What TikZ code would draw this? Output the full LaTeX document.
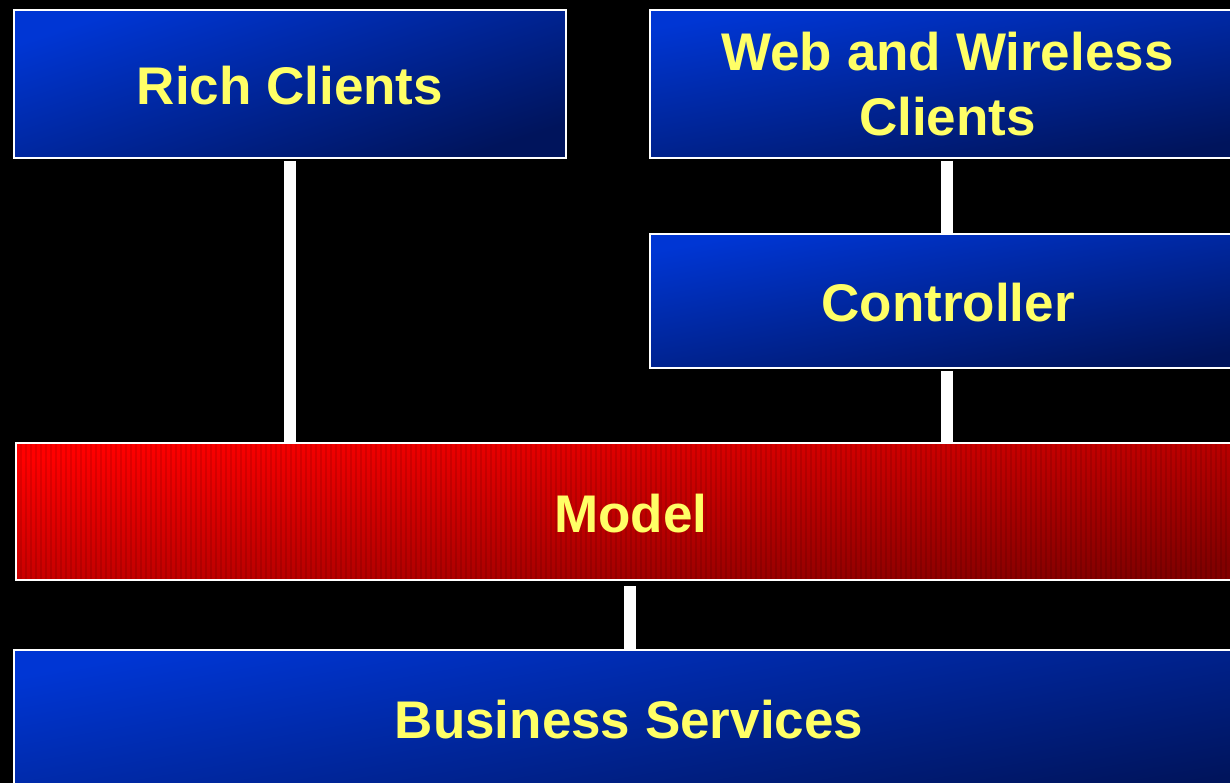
\documentclass[tikz,border=0pt]{standalone}
\usepackage{fontspec}
\setmainfont{Liberation Sans}
\definecolor{blueA}{RGB}{0,54,212}
\definecolor{blueB}{RGB}{0,20,92}
\definecolor{redA}{RGB}{255,0,0}
\definecolor{redB}{RGB}{130,0,0}
\definecolor{txt}{RGB}{255,255,102}
\tikzset{
  frame/.style={rectangle, draw=white, line width=1.6pt, inner sep=0pt, outer sep=0pt},
  box/.style={frame, top color=blueA, bottom color=blueB, shading angle=18},
  widebox/.style={frame, top color=blueA, bottom color=blueB, shading angle=10},
  redbox/.style={frame, top color=redA, bottom color=redB, shading angle=8,
    path picture={
      \foreach \i in {0,5,...,1240}
        \draw[black, opacity=0.10, line width=1.5pt]
          ([xshift=\i pt]path picture bounding box.north west) --
          ([xshift=\i pt]path picture bounding box.south west);
    }},
  lbl/.style={text=txt, font=\bfseries\fontsize{53}{65}\selectfont, inner sep=0pt, align=center},
  conn/.style={draw=white, line width=12pt, line cap=butt}
}
\begin{document}
\begin{tikzpicture}[x=1pt, y=-1pt]
\useasboundingbox (0,0) rectangle (1230,783);
\fill[black] (0,0) rectangle (1230,783);
\clip (0,0) rectangle (1230,783);
% boxes
\node[box, minimum width=552pt, minimum height=148pt] (rich) at (290,84) {};
\node[widebox, minimum width=594pt, minimum height=148pt] (web) at (947,84) {};
\node[widebox, minimum width=594pt, minimum height=134pt] (ctrl) at (947,301) {};
\node[redbox, minimum width=1228pt, minimum height=137pt] (model) at (630,511.5) {};
\node[widebox, minimum width=1230pt, minimum height=150pt] (bs) at (629,725) {};
% labels
\node[lbl, anchor=base] (richtxt) at (290,105) {Rich Clients};
\node[lbl] (webtxt) at (947.5,84.5) {Web and Wireless\\Clients};
\node[lbl, anchor=base] (ctrltxt) at (948,321.5) {Controller};
\node[lbl, anchor=base] (modeltxt) at (631,532) {Model};
\node[lbl, anchor=base] (bstxt) at (629,738) {Business Services};
% connectors
\draw[conn, shorten <=3pt] (rich.south) -- (model.north -| rich.south);
\draw[conn, shorten <=3pt] (web.south) -- (ctrl.north);
\draw[conn, shorten <=3pt] (ctrl.south) -- (model.north -| ctrl.south);
\draw[conn, shorten <=6pt] (model.south) -- (bs.north -| model.south);
\end{tikzpicture}
\end{document}
